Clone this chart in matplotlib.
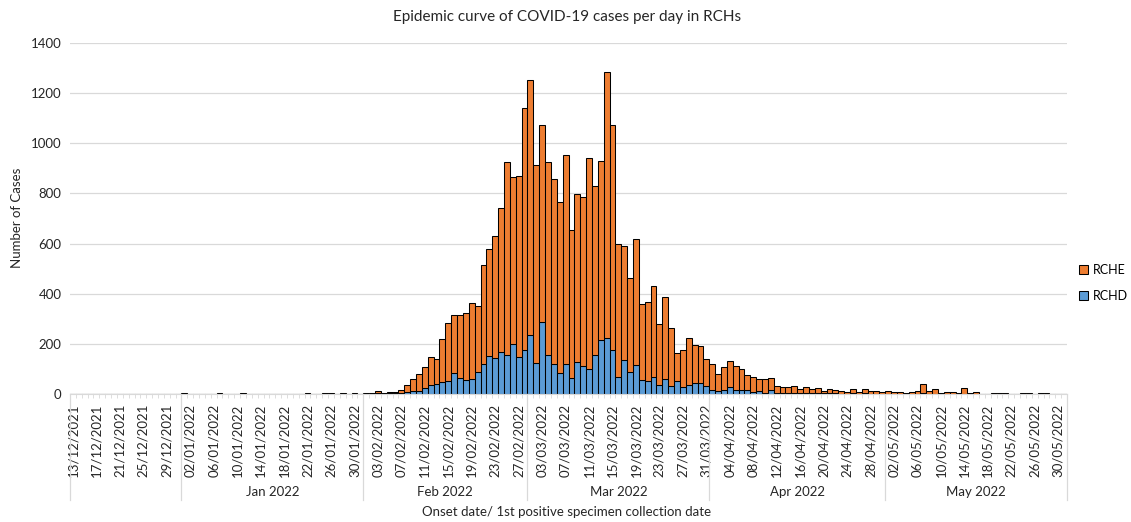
import matplotlib
matplotlib.use('Agg')
import matplotlib.pyplot as plt
import matplotlib.transforms as mtransforms
import pandas as pd
import numpy as np

plt.rcParams['font.family'] = ['Lato', 'DejaVu Sans']

# dagen van 13/12/2021 t/m 31/05/2022
dagen = pd.date_range('2021-12-13', '2022-05-31', freq='D')
tick_labels = [d.strftime('%d/%m/%Y') for d in dagen]

maanden = ['Jan 2022', 'Feb 2022', 'Mar 2022', 'Apr 2022', 'May 2022']

# totaal per dag (RCHD + RCHE)
totaal_dec = [0] * 19
totaal_jan = [2, 0, 0, 0, 0, 0, 2, 0, 0, 0, 2, 1, 0, 0, 0, 0, 0, 1, 0, 0,
              0, 2, 0, 1, 2, 2, 1, 2, 1, 2, 1]
totaal_feb = [4, 4, 10, 4, 8, 8, 14, 34, 58, 81, 106, 146, 140, 218, 282, 316,
              314, 322, 362, 352, 513, 578, 632, 743, 925, 867, 871, 1139]
totaal_mar = [1251, 912, 1074, 927, 856, 766, 953, 653, 797, 786, 940, 831,
              929, 1283, 1074, 598, 590, 463, 617, 358, 367, 432, 278, 386,
              263, 163, 175, 223, 194, 190, 138]
totaal_apr = [118, 81, 108, 130, 110, 98, 75, 67, 61, 58, 64, 31, 29, 27, 31,
              20, 27, 20, 24, 13, 20, 15, 13, 7, 19, 8, 21, 11, 11, 7]
totaal_mei = [11, 8, 8, 2, 6, 10, 38, 10, 19, 2, 7, 7, 3, 23, 2, 6, 1, 0, 2,
              2, 2, 0, 0, 2, 2, 1, 2, 2, 0, 0, 0]

# RCHD per dag
rchd_dec = [0] * 19
rchd_jan = [0] * 31
rchd_feb = [0, 1, 2, 1, 2, 2, 4, 8, 12, 12, 24, 37, 39, 47, 52, 84, 62, 56,
            58, 86, 118, 151, 142, 166, 156, 198, 149, 175]
rchd_mar = [234, 122, 286, 157, 118, 84, 120, 62, 128, 112, 100, 154, 214,
            225, 175, 68, 134, 88, 114, 56, 52, 66, 36, 58, 30, 50, 26, 34,
            45, 45, 30]
rchd_apr = [16, 12, 16, 27, 16, 14, 14, 9, 12, 2, 14, 4, 3, 3, 4, 2, 5, 2, 3,
            2, 2, 2, 1, 1, 2, 1, 2, 1, 1, 1]
rchd_mei = [1, 1, 1, 0, 1, 1, 2, 1, 1, 0, 1, 0, 0, 1, 0, 0, 0, 0, 0, 0, 0, 0,
            0, 0, 0, 0, 0, 0, 0, 0, 0]

totaal = np.array(totaal_dec + totaal_jan + totaal_feb + totaal_mar + totaal_apr + totaal_mei)
rchd = np.array(rchd_dec + rchd_jan + rchd_feb + rchd_mar + rchd_apr + rchd_mei)
rche = totaal - rchd

oranje = '#ED7D31'
blauw = '#5B9BD5'
tekst = '#262626'

fig = plt.figure(figsize=(11.31, 5.22), dpi=100)
ax = fig.add_axes([70 / 1131, 1 - 394 / 522, 997 / 1131, 351 / 522])

x = np.arange(len(dagen))
b1 = ax.bar(x, rchd, width=1.0, color=blauw, edgecolor='black', linewidth=0.75, label='RCHD')
b2 = ax.bar(x, rche, width=1.0, bottom=rchd, color=oranje, edgecolor='black', linewidth=0.75, label='RCHE')

ax.set_xlim(-0.5, len(dagen) - 0.5)
ax.set_ylim(0, 1400)
ax.set_yticks(range(0, 1401, 200))
ax.yaxis.grid(True, color='#d9d9d9', linewidth=0.9)
ax.set_axisbelow(True)
for s in ['top', 'right', 'left']:
    ax.spines[s].set_visible(False)
ax.spines['bottom'].set_color('#d9d9d9')
ax.tick_params(axis='y', length=0, labelsize=9.5, colors=tekst, pad=6)

pos = x[::4]
ax.set_xticks(pos)
ax.set_xticklabels([tick_labels[i] for i in pos], rotation=90, fontsize=9.5, color=tekst)
ax.tick_params(axis='x', length=0, pad=7)
ax.set_xticks(np.arange(-0.5, len(dagen), 1), minor=True)
ax.tick_params(axis='x', which='minor', length=3, color='#d0d0d0', width=0.5)

# maandgrenzen en maandlabels onder de as
trans = mtransforms.blended_transform_factory(ax.transData, ax.transAxes)
grenzen = [-0.5]
for i, d in enumerate(dagen):
    if d.day == 1:
        grenzen.append(i - 0.5)
grenzen.append(len(dagen) - 0.5)
for g in grenzen:
    ax.plot([g, g], [0, -0.302], transform=trans, color='#d9d9d9', linewidth=0.9, clip_on=False)
for i, m in enumerate(maanden):
    midden = (grenzen[i + 1] + grenzen[i + 2]) / 2
    ax.text(midden, -0.279, m, transform=trans, ha='center', va='center', fontsize=9.5, color=tekst)

fig.text(567 / 1131, 1 - 512 / 522, 'Onset date/ 1st positive specimen collection date',
         ha='center', va='center', fontsize=9.5, color=tekst)
fig.text(17 / 1131, 1 - 218 / 522, 'Number of Cases', rotation=90,
         ha='center', va='center', fontsize=9.5, color=tekst)
fig.text(567 / 1131, 1 - 17 / 522, 'Epidemic curve of COVID-19 cases per day in RCHs',
         ha='center', va='center', fontsize=11, color=tekst)

fig.legend([b2, b1], ['RCHE', 'RCHD'], loc='center left',
           bbox_to_anchor=(1079 / 1131, 1 - 283 / 522), frameon=False,
           fontsize=9, handlelength=0.75, handleheight=0.75, handletextpad=0.35,
           labelspacing=1.1, borderaxespad=0, borderpad=0)

fig.savefig('out.png', dpi=100)
